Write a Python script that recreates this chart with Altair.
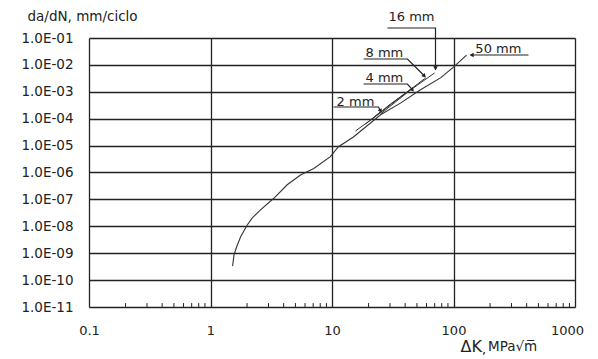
import altair as alt
import pandas as pd

# Main crack-growth curve (ΔK in MPa√m, da/dN in mm/ciclo)
main_dk = [1.52, 1.56, 1.64, 1.77, 2.0, 2.2, 2.58, 3.32, 4.28, 5.5, 7.08, 9.7, 11.3, 15.0, 25.1, 36.6, 53.5, 78.2, 100, 128]
main_dadn = [3.3e-10, 8.5e-10, 1.7e-9, 4.1e-9, 1.1e-8, 2.0e-8, 4.1e-8, 1.1e-7, 3.5e-7, 8.1e-7, 1.4e-6, 3.9e-6, 9.1e-6, 2.1e-5, 1.4e-4, 3.8e-4, 1.2e-3, 3.3e-3, 8.3e-3, 2.3e-2]

# Branches for the thinner specimens
br_names = ["2 mm", "2 mm", "2 mm", "4 mm", "4 mm", "4 mm", "8 mm", "8 mm", "8 mm", "16 mm", "16 mm", "16 mm"]
br_dk = [15.6, 20.8, 25.5, 18.9, 30.3, 46.0, 21.5, 36.6, 58.9, 25.1, 44.3, 69.8]
br_dadn = [3.49e-5, 8.95e-5, 1.93e-4, 6.35e-5, 3.52e-4, 1.38e-3, 9.75e-5, 6.41e-4, 3.26e-3, 1.50e-4, 1.17e-3, 5.0e-3]

# Labels
lab_text = ["16 mm", "8 mm", "4 mm", "2 mm", "50 mm"]
lab_dk = [45.1, 27.0, 27.0, 15.6, 234]
lab_dadn = [0.60, 0.0277, 0.00326, 4.18e-4, 0.039]

# Leader lines
lead_id = ["16", "16", "16", "8", "8", "8", "4", "4", "4", "2", "2", "2", "50", "50"]
lead_ord = [0, 1, 2, 0, 1, 2, 0, 1, 2, 0, 1, 2, 0, 1]
lead_dk = [28.6, 71.1, 71.1, 18.2, 41.8, 57.7, 18.2, 41.8, 46.0, 10.3, 24.1, 25.1, 414, 138]
lead_dadn = [0.235, 0.235, 0.00646, 0.0166, 0.0166, 0.00387, 0.00195, 0.00195, 0.00117, 2.72e-4, 2.72e-4, 1.93e-4, 0.0233, 0.0233]

# Arrow heads
arr_dk = [71.1, 57.7, 46.0, 25.1, 141]
arr_dadn = [0.0075, 0.00387, 0.00117, 1.93e-4, 0.0233]
arr_angle = [180, 135, 140, 153, 270]

x_ticks = [0.1, 1, 10, 100, 1000]
y_ticks = [1e-1, 1e-2, 1e-3, 1e-4, 1e-5, 1e-6, 1e-7, 1e-8, 1e-9, 1e-10, 1e-11]
y_labels = ["1.0E-01", "1.0E-02", "1.0E-03", "1.0E-04", "1.0E-05", "1.0E-06",
            "1.0E-07", "1.0E-08", "1.0E-09", "1.0E-10", "1.0E-11"]
minor = [m * d for d in [0.1, 1, 10, 100] for m in range(2, 10)]

FONT = "DejaVu Sans"
INK = "#222222"

xs = alt.Scale(type="log", domain=[0.1, 1000], nice=False)
ys = alt.Scale(type="log", domain=[1e-11, 1e-1], nice=False)

label_expr = "[" + ",".join("'%s'" % s for s in y_labels) + "][round(-log(datum.value)/LN10)-1]"

main_df = pd.DataFrame({"dk": main_dk, "dadn": main_dadn})
br_df = pd.DataFrame({"name": br_names, "dk": br_dk, "dadn": br_dadn})
lab_df = pd.DataFrame({"t": lab_text, "dk": lab_dk, "dadn": lab_dadn})
lead_df = pd.DataFrame({"id": lead_id, "o": lead_ord, "dk": lead_dk, "dadn": lead_dadn})
arr_df = pd.DataFrame({"dk": arr_dk, "dadn": arr_dadn, "a": arr_angle})
minor_df = pd.DataFrame({"dk": minor, "y0": [1e-11] * len(minor), "y1": [1.4e-11] * len(minor)})

base_x = alt.X("dk:Q", scale=xs,
               axis=alt.Axis(values=x_ticks, format="~g", grid=True, gridColor=INK, gridWidth=1.3,
                             gridOpacity=1, ticks=False, domain=False, labelFont=FONT, labelFontSize=13,
                             labelColor=INK, labelPadding=17, labelFlush=False,
                             labelOffset={"condition": {"test": "datum.value >= 1000", "value": -8}, "value": 0},
                             title="ΔK", titleFont=FONT, titleFontSize=16, titleFontWeight="normal",
                             titleColor=INK, titleAnchor="start", titleAlign="left", titleX=371,
                             titleY=39, titleBaseline="middle"))
base_y = alt.Y("dadn:Q", scale=ys,
               axis=alt.Axis(values=y_ticks, labelExpr=label_expr, grid=True, gridColor=INK,
                             gridWidth=1.3, gridOpacity=1, ticks=False, domain=False, labelFont=FONT,
                             labelFontSize=13.5, labelColor=INK, labelPadding=16, labelFlush=False,
                             title="da/dN, mm/ciclo", titleAngle=0, titleAlign="left",
                             titleBaseline="middle", titleX=-62, titleY=-22, titleFont=FONT,
                             titleFontSize=13.5, titleFontWeight="normal", titleColor=INK))

main = alt.Chart(main_df).mark_line(color="#333333", strokeWidth=1.1).encode(x=base_x, y=base_y)

branches = alt.Chart(br_df).mark_line(color="#333333", strokeWidth=1.0).encode(
    x=alt.X("dk:Q", scale=xs), y=alt.Y("dadn:Q", scale=ys), detail="name:N")

leads = alt.Chart(lead_df).mark_line(color=INK, strokeWidth=1.2).encode(
    x=alt.X("dk:Q", scale=xs), y=alt.Y("dadn:Q", scale=ys), detail="id:N", order="o:Q")

arrows = alt.Chart(arr_df).mark_point(shape="triangle-up", filled=True, color=INK, size=22, opacity=1).encode(
    x=alt.X("dk:Q", scale=xs), y=alt.Y("dadn:Q", scale=ys), angle=alt.Angle("a:Q", scale=None))

labels = alt.Chart(lab_df).mark_text(font=FONT, fontSize=13, color=INK).encode(
    x=alt.X("dk:Q", scale=xs), y=alt.Y("dadn:Q", scale=ys), text="t:N")

minors = alt.Chart(minor_df).mark_rule(color=INK, strokeWidth=1).encode(
    x=alt.X("dk:Q", scale=xs), y=alt.Y("y0:Q", scale=ys), y2="y1:Q")

comma = alt.Chart(pd.DataFrame({"t": [","]})).mark_text(
    font=FONT, fontSize=13, color=INK, align="left", baseline="middle").encode(
    x=alt.value(393), y=alt.value(312), text="t:N")

unit = alt.Chart(pd.DataFrame({"t": ["MPa√m̅"]})).mark_text(
    font=FONT, fontSize=13.5, color=INK, align="left", baseline="middle").encode(
    x=alt.value(399), y=alt.value(309), text="t:N")

chart = alt.layer(main, branches, leads, arrows, labels, minors, comma, unit).properties(
    width=486, height=269,
    autosize=alt.AutoSizeParams(type="none"),
    padding={"left": 81, "top": 30, "right": 15, "bottom": 50},
).configure_view(stroke=INK, strokeWidth=1.3).configure(background="white")

chart.save("out.html", embed_options={"renderer": "svg", "actions": False})
